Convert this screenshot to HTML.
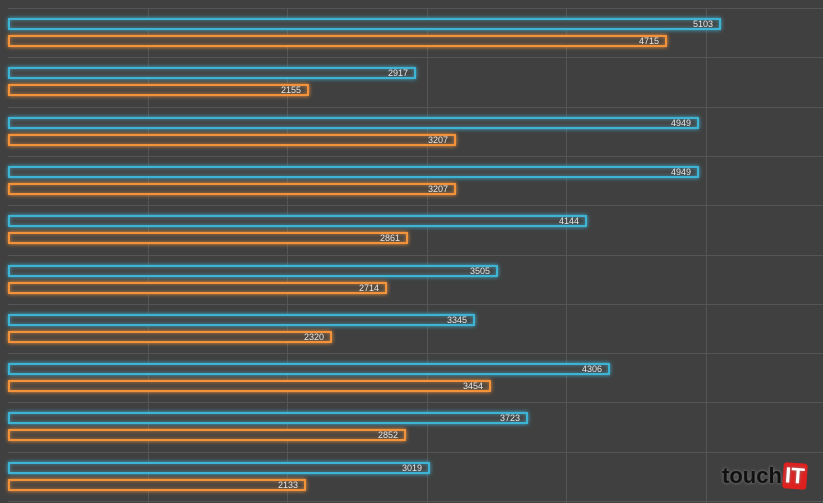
<html><head><style>
body{margin:0;background:#404040;width:823px;height:503px;overflow:hidden;position:relative;font-family:"Liberation Sans",sans-serif}
.h{position:absolute;left:8px;right:0;height:1px;background:#555}
.v{position:absolute;top:8px;bottom:0;width:1px;background:#555}
.b{position:absolute;left:8px;height:8px;box-sizing:content-box;color:#e8e8e8;font-size:9px;line-height:8px;text-align:right}
.b span{position:absolute;right:6px;top:0}
.c{border:2px solid #3fb3d4;box-shadow:0 0 4px #3fb3d4,inset 0 0 4px rgba(63,179,212,.6);background:#444}
.o{border:2px solid #f2923a;box-shadow:0 0 4px #f2923a,inset 0 0 4px rgba(242,146,58,.6);background:#4a4540}
</style></head><body>
<div id="g"></div>
<div style="position:absolute;left:722px;top:463px;font:bold 22px 'Liberation Sans',sans-serif;color:#111;text-shadow:0 0 3px #888">touch<span style="display:inline-block;background:#e0201f;color:#fff;padding:0 2px;border-radius:3px;transform:rotate(4deg);margin-left:1px">IT</span></div>
<script>
var g=document.getElementById('g'),h='';
for(var i=0;i<11;i++)h+='<div class="h" style="top:'+(8+i*49.3).toFixed(0)+'px"></div>';
for(var k=1;k<=5;k++)h+='<div class="v" style="left:'+(8+139.5*k).toFixed(0)+'px"></div>';
var d=[[5103,4715],[2917,2155],[4949,3207],[4949,3207],[4144,2861],[3505,2714],[3345,2320],[4306,3454],[3723,2852],[3019,2133]];
d.forEach(function(p,i){var y=18+i*49.3;
h+='<div class="b c" style="top:'+y.toFixed(0)+'px;width:'+(p[0]*0.1397-4).toFixed(0)+'px"><span>'+p[0]+'</span></div>';
h+='<div class="b o" style="top:'+(y+17).toFixed(0)+'px;width:'+(p[1]*0.1397-4).toFixed(0)+'px"><span>'+p[1]+'</span></div>';});
g.innerHTML=h;
</script>
</body></html>
